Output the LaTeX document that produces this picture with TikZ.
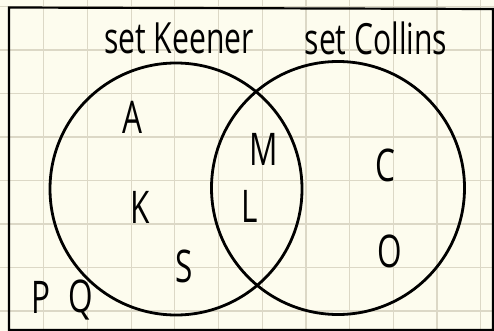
\documentclass[tikz,border=0pt]{standalone}
\usepackage{fontspec}
\setmainfont{Open Sans}
\definecolor{paper}{RGB}{253,252,238}
\definecolor{gridline}{RGB}{220,216,198}
\tikzset{
  ink/.style={draw=black, line width=2.8pt},
  hand/.style={font=\fontsize{43}{43}\selectfont, inner sep=0pt, anchor=base},
  member/.style={font=\fontsize{45}{45}\selectfont, inner sep=0pt, anchor=base},
}
\newcommand{\narrow}[1]{\scalebox{0.7}[1]{#1}}
\begin{document}
\begin{tikzpicture}[x=1pt, y=-1pt]
  % paper and grid
  \fill[paper] (0,0) rectangle (494,331);
  \useasboundingbox (0,0) rectangle (494,331);
  \foreach \k in {1,...,11}
    \draw[gridline, line width=1.2pt] (43.7*\k,0) -- (43.7*\k,331);
  \foreach \k in {0,...,7}
    \draw[gridline, line width=1.2pt] (0,6.5+43.5*\k) -- (494,6.5+43.5*\k);
  % frame
  \draw[black, line width=2.2pt] (9,330) -- (9,7.5) -- (493,9) -- (493,330) -- cycle;
  % the two sets
  \coordinate (ck) at (176,189);
  \coordinate (cc) at (338,188);
  \draw[ink] (ck) circle[radius=126];
  \draw[ink] (cc) circle[radius=126.5];
  % set names
  \node[hand] (keener) at (179,54) {\narrow{set Keener}};
  \node[hand] (collins) at (376,55) {\narrow{set Collins}};
  % members
  \node[member] (a) at (132,133) {\narrow{A}};
  \node[member] (k) at (140,223) {\narrow{K}};
  \node[member] (s) at (184,282) {\narrow{S}};
  \node[member] (m) at (264,165) {\narrow{M}};
  \node[member] (l) at (250,222) {\narrow{L}};
  \node[member] (c) at (385,181) {\narrow{C}};
  \node[member] (o) at (390,267) {\narrow{O}};
  \node[member] (p) at (41,313) {\narrow{P}};
  \node[member] (q) at (81,312) {\narrow{Q}};
\end{tikzpicture}
\end{document}
